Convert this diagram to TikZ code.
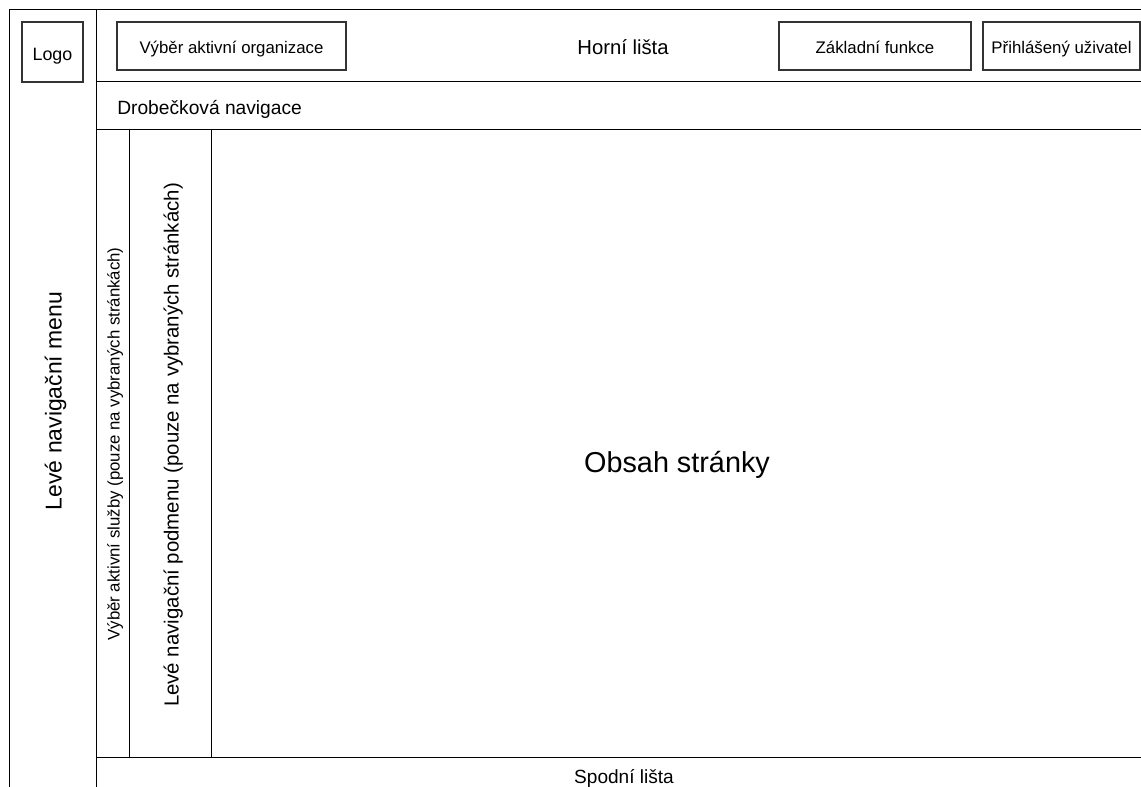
\documentclass[tikz,border=0pt]{standalone}
\usepackage{fontspec}
\setmainfont{Liberation Sans}
\usetikzlibrary{fit,positioning}
\tikzset{
	layout/.style={x=0.75pt, y=-0.75pt},
	region/.style={draw, line width=0.75pt, inner sep=0pt, outer sep=0pt},
	widget/.style={draw=black!80, line width=0.9pt, inner sep=0pt, outer sep=0pt},
	txt/.style={inner sep=0pt, anchor=mid, font=\fontsize{#1}{#1}\selectfont},
	txt/.default=12.6pt
}

\begin{document}
\begin{tikzpicture}[layout]
  \useasboundingbox (0,0) rectangle (1141,787);
  \begin{scope}
  \clip (0,0) rectangle (1141,787);
  % main regions of the page
  \node[region, fit={(9,10) (96,800)}] (menu) {};
  \node[region, fit={(96,10) (1150,82)}] (topbar) {};
  \node[region, fit={(96,82) (1150,130)}] (crumbs) {};
  \node[region, fit={(96,130) (129,757)}] (service) {};
  \node[region, fit={(129,130) (211,757)}] (submenu) {};
  \node[region, fit={(211,130) (1150,757)}] (content) {};
  \node[region, fit={(96,757) (1150,795)}] (footer) {};
  % widgets in the top bar
  \node[widget, fit={(22,22) (83,82)}] (logo) {};
  \node[widget, fit={(117,22) (346,70)}] (org) {};
  \node[widget, fit={(779,22) (971,70)}] (funcs) {};
  \node[widget, fit={(983,22) (1140,70)}] (user) {};
  \end{scope}
  % texts
  \node[txt=13.4pt] at ([yshift=-4pt]logo.center) {Logo};
  \node[txt] at ([yshift=-3pt]org.center) {Výběr aktivní organizace};
  \node[txt] at ([yshift=-3pt]funcs.center) {Základní funkce};
  \node[txt] at ([yshift=-3pt]user.center) {Přihlášený uživatel};
  \node[txt=15.2pt] at ([yshift=-3.5pt]topbar.center) {Horní lišta};
  \node[txt=14.4pt, anchor=mid west] at (117,111) {Drobečková navigace};
  \node[txt=17.2pt, rotate=90] at (58,401) {Levé navigační menu};
  \node[txt=12.6pt, rotate=90] at (116,444) {Výběr aktivní služby (pouze na vybraných stránkách)};
  \node[txt=15.3pt, rotate=90] at (175,445) {Levé navigační podmenu (pouze na vybraných stránkách)};
  \node[txt=21.6pt] at (677,469) {Obsah stránky};
  \node[txt=14.3pt] at (624,780) {Spodní lišta};
\end{tikzpicture}
\end{document}
